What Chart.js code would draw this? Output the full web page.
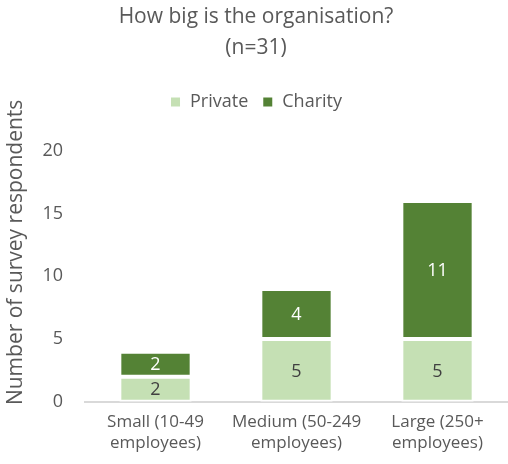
<!DOCTYPE html>
<html>
<head>
<meta charset="utf-8">
<script src="https://cdn.jsdelivr.net/npm/chart.js@4"></script>
<style>
  html, body { margin: 0; padding: 0; background: #fff; }
  #wrap { width: 508px; height: 464px; }
</style>
</head>
<body>
<div id="wrap"><canvas id="orgChart"></canvas></div>
<script>
// organisation size by sector
const sizeLabels = [
    ["Small (10-49", "employees)"],
    ["Medium (50-249", "employees)"],
    ["Large (250+", "employees)"]
];
const privateCounts = [2, 5, 5];
const charityCounts = [2, 4, 11];
const yTicks = [0, 5, 10, 15, 20];
const yTitle = 'Number of survey respondents';

const textGrey = '#595959';
const fontFamily = '"Open Sans", "Noto Sans", sans-serif';

// writes each segment's value in the middle of its bar
const barValues = {
    id: 'barValues',
    afterDatasetsDraw(chart) {
        let ctx = chart.ctx;
        ctx.save();
        ctx.font = '18px ' + fontFamily;
        ctx.textAlign = 'center';
        ctx.textBaseline = 'middle';
        chart.data.datasets.forEach((ds, i) => {
            let meta = chart.getDatasetMeta(i);
            meta.data.forEach((bar, j) => {
                let mid = (bar.y + bar.base) / 2;
                ctx.fillStyle = i === 0 ? '#404040' : '#ffffff';
                ctx.fillText(ds.data[j], bar.x, mid + 1);
            });
        });
        ctx.restore();
    }
};

// rotated axis title, sitting a little above the plot's middle
const sideTitle = {
    id: 'sideTitle',
    afterDraw(chart) {
        let area = chart.chartArea;
        let ctx = chart.ctx;
        ctx.save();
        ctx.translate(16, (area.top + area.bottom) / 2 - 24);
        ctx.rotate(-Math.PI / 2);
        ctx.font = '21px ' + fontFamily;
        ctx.fillStyle = textGrey;
        ctx.textAlign = 'center';
        ctx.textBaseline = 'middle';
        ctx.fillText(yTitle, 0, 0);
        ctx.restore();
    }
};

// leave extra room between the legend and the plot
const legendGap = {
    id: 'legendGap',
    afterInit(chart) {
        let legend = chart.legend;
        if (!legend) return;
        let fit = legend.fit;
        legend.fit = function () {
            fit.call(this);
            this.height += 30;
        };
    }
};

let ctx = document.getElementById("orgChart").getContext("2d");

new Chart(ctx, {
    type: 'bar',
    data: {
        labels: sizeLabels,
        datasets: [{
            label: 'Private',
            data: privateCounts,
            backgroundColor: '#c5e0b4',
            borderColor: '#ffffff',
            borderWidth: 2,
            borderSkipped: false
        }, {
            label: 'Charity',
            data: charityCounts,
            backgroundColor: '#548235',
            borderColor: '#ffffff',
            borderWidth: 2,
            borderSkipped: false
        }]
    },
    options: {
        responsive: true,
        maintainAspectRatio: false,
        animation: false,
        datasets: {
            bar: { categoryPercentage: 1, barPercentage: 0.513 }
        },
        layout: { padding: { left: 0, right: -4, top: 2, bottom: 0 } },
        scales: {
            x: {
                stacked: true,
                grid: { display: false, drawTicks: false },
                border: { color: '#d9d9d9', width: 2 },
                ticks: {
                    color: textGrey,
                    padding: 10,
                    maxRotation: 0,
                    minRotation: 0,
                    autoSkip: false,
                    font: { family: fontFamily, size: 17, lineHeight: 1.24 }
                }
            },
            y: {
                stacked: true,
                min: 0,
                max: 20,
                afterBuildTicks: (axis) => { axis.ticks = yTicks.map(v => ({ value: v })); },
                afterFit: (axis) => { axis.width = 85; },
                grid: { display: false, drawTicks: false },
                border: { display: false },
                ticks: {
                    color: textGrey,
                    padding: 22,
                    font: { family: fontFamily, size: 18 }
                }
            }
        },
        plugins: {
            title: {
                display: true,
                text: ['How big is the organisation?', '(n=31)'],
                color: textGrey,
                font: { family: fontFamily, size: 21, weight: 'normal', lineHeight: 1.45 },
                padding: { top: 0, bottom: 16 }
            },
            legend: {
                labels: {
                    color: textGrey,
                    font: { family: fontFamily, size: 18 },
                    usePointStyle: true,
                    pointStyle: 'rect',
                    boxWidth: 11,
                    boxHeight: 11,
                    padding: 14
                }
            },
            tooltip: { enabled: false }
        }
    },
    plugins: [barValues, sideTitle, legendGap]
});
</script>
</body>
</html>
